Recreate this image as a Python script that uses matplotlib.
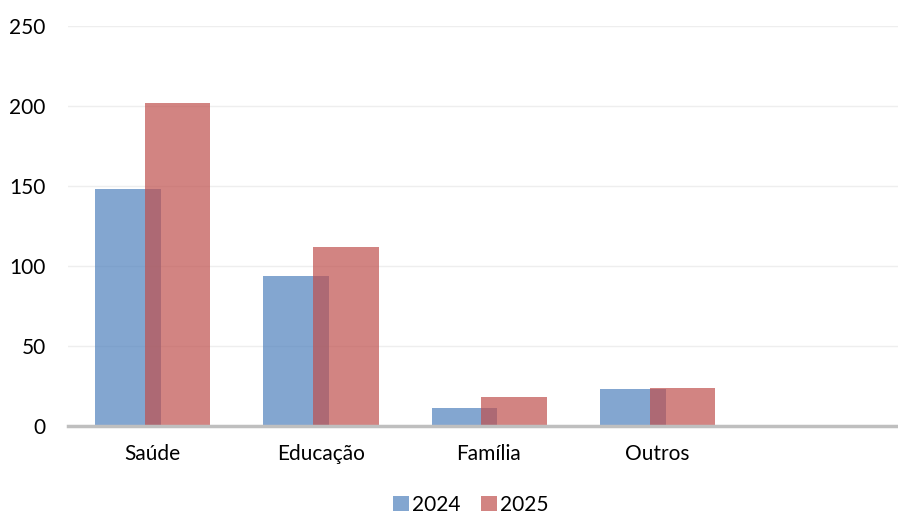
import matplotlib

matplotlib.use("Agg")
import matplotlib.pyplot as plt
import numpy as np

categories = ["Saúde", "Educação", "Família", "Outros", ""]
values_2024 = [148, 94, 11, 23, 0]
values_2025 = [202, 112, 18, 24, 0]
series_labels = ["2024", "2025"]
y_ticks = [0, 50, 100, 150, 200, 250]

plt.rcParams["font.family"] = ["Lato", "DejaVu Sans"]

fig = plt.figure(figsize=(8.98, 5.16), dpi=100)
# plot area runs a little past the right edge of the picture
ax = fig.add_axes([68 / 898, 1 - 426 / 516, 842 / 898, (426 - 26) / 516])

x = np.arange(len(categories))
width = 0.39
ax.bar(x - 0.145, values_2024, width, color="#4F81BD", alpha=0.7, label=series_labels[0], zorder=2)
ax.bar(x + 0.15, values_2025, width, color="#C0504D", alpha=0.7, label=series_labels[1], zorder=3)

ax.set_xlim(-0.5, len(categories) - 0.5)
ax.set_ylim(0, 250)
ax.set_yticks(y_ticks)
ax.set_xticks(x)
ax.set_xticklabels(categories)
ax.tick_params(axis="y", length=0, pad=16, labelsize=15)
ax.tick_params(axis="x", length=0, pad=13, labelsize=15)
ax.grid(axis="y", color="#eeeeee", linewidth=1, zorder=0)
for side in ["top", "right", "left"]:
    ax.spines[side].set_visible(False)
ax.spines["bottom"].set_color("#bfbfbf")
ax.spines["bottom"].set_linewidth(2.5)
ax.spines["bottom"].set_zorder(4)

fig.legend(
    loc="center",
    bbox_to_anchor=(471 / 898, 1 - 505 / 516),
    ncol=2,
    frameon=False,
    fontsize=15,
    handlelength=0.75,
    handleheight=0.75,
    handletextpad=0.15,
    columnspacing=1.0,
    borderpad=0,
)

fig.savefig("out.png", dpi=100)
